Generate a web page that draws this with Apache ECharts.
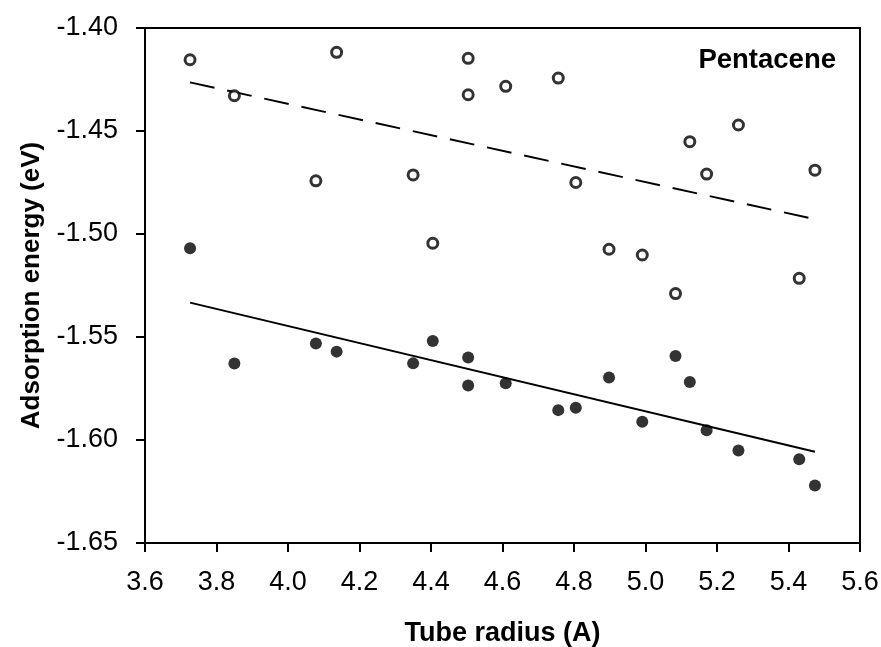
<!DOCTYPE html>
<html>
<head>
<meta charset="utf-8">
<script src="https://cdn.jsdelivr.net/npm/echarts@6/dist/echarts.min.js"></script>
<style>html,body{margin:0;padding:0;background:#fff}#c{width:881px;height:647px}</style>
</head>
<body>
<div id="c"></div>
<script>
// Tube radius (A) for each nanotube
var radius = [3.726, 3.850, 4.078, 4.136, 4.350, 4.405, 4.504, 4.504, 4.609, 4.756, 4.805, 4.898, 4.991, 5.084, 5.124, 5.171, 5.260, 5.430, 5.474];
// Open circles
var openEnergy = [-1.4154, -1.4329, -1.4742, -1.4118, -1.4713, -1.5045, -1.4147, -1.4324, -1.4283, -1.4243, -1.4750, -1.5074, -1.5102, -1.5289, -1.4552, -1.4709, -1.4471, -1.5215, -1.4690];
// Filled circles
var filledRadius = [3.726, 3.850, 4.078, 4.136, 4.350, 4.405, 4.504, 4.504, 4.609, 4.756, 4.805, 4.898, 4.991, 5.084, 5.124, 5.171, 5.260, 5.430, 5.474];
var filledEnergy = [-1.5069, -1.5629, -1.5532, -1.5571, -1.5628, -1.5519, -1.5600, -1.5735, -1.5725, -1.5855, -1.5843, -1.5697, -1.5911, -1.5592, -1.5718, -1.5953, -1.6051, -1.6094, -1.6221];
// Fit line end points
var fitOpenX = [3.726, 5.474];
var fitOpenY = [-1.4264, -1.4928];
var fitFilledX = [3.726, 5.474];
var fitFilledY = [-1.5333, -1.6057];

function pairs(xs, ys){ return xs.map(function(x,i){ return [x, ys[i]]; }); }

var font = 'Arial, "Liberation Sans", sans-serif';
var chart = echarts.init(document.getElementById('c'), null, {renderer:'canvas'});
chart.setOption({
  animation: false,
  backgroundColor: '#fff',
  grid: { left: 145, right: 21, top: 28, bottom: 104, containLabel: false, outerBoundsMode: 'none', show: true, borderColor: '#000', borderWidth: 2, backgroundColor: 'transparent' },
  xAxis: {
    type: 'value', min: 3.6, max: 5.6, interval: 0.2,
    name: 'Tube radius (A)', nameLocation: 'middle', nameGap: 77,
    nameTextStyle: { fontFamily: font, fontWeight: 'bold', fontSize: 27, color: '#000' },
    axisLine: { show: true, onZero: false, lineStyle: { color: '#000', width: 2 } },
    axisTick: { show: true, inside: false, length: 9, lineStyle: { color: '#000', width: 2 } },
    axisLabel: { fontFamily: font, fontSize: 27, color: '#000', margin: 26, formatter: function(v){ return v.toFixed(1); } },
    splitLine: { show: false }
  },
  yAxis: {
    type: 'value', min: -1.65, max: -1.40, interval: 0.05,
    name: 'Adsorption energy (eV)', nameLocation: 'middle', nameGap: 100, nameRotate: 90,
    nameTextStyle: { fontFamily: font, fontWeight: 'bold', fontSize: 26, color: '#000' },
    axisLine: { show: true, onZero: false, lineStyle: { color: '#000', width: 2 } },
    axisTick: { show: true, inside: false, length: 9, lineStyle: { color: '#000', width: 2 } },
    axisLabel: { fontFamily: font, fontSize: 27, color: '#000', margin: 27, formatter: function(v){ return v.toFixed(2); } },
    splitLine: { show: false }
  },
  graphic: [{
    type: 'text', right: 45, top: 46,
    style: { text: 'Pentacene', fontFamily: font, fontWeight: 'bold', fontSize: 27.5, fill: '#000' }
  }],
  series: [
    { type: 'line', data: pairs(fitOpenX, fitOpenY), symbol: 'none', lineStyle: { color: '#000', width: 2, type: [25, 13] }, z: 1 },
    { type: 'line', data: pairs(fitFilledX, fitFilledY), symbol: 'none', lineStyle: { color: '#000', width: 2 }, z: 1 },
    { type: 'scatter', data: pairs(radius, openEnergy), symbol: 'circle', symbolSize: 10, itemStyle: { color: '#fff', borderColor: '#000', borderWidth: 3 }, z: 3 },
    { type: 'scatter', data: pairs(filledRadius, filledEnergy), symbol: 'circle', symbolSize: 12, itemStyle: { color: '#000' }, z: 3 }
  ]
});
</script>
</body>
</html>
